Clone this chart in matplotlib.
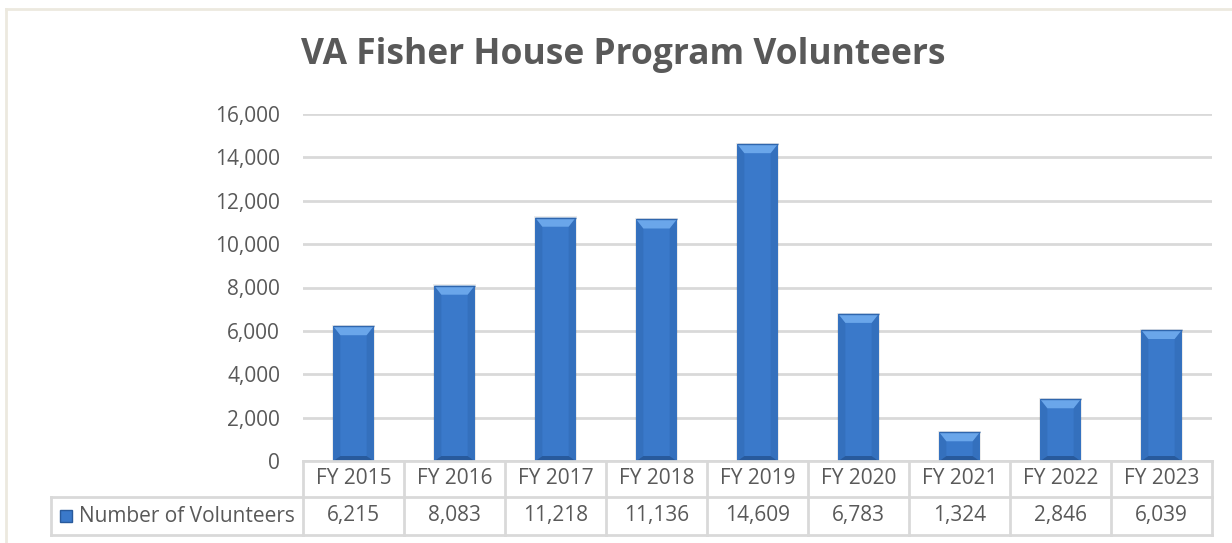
import matplotlib
matplotlib.use("Agg")
import matplotlib.pyplot as plt
from matplotlib.patches import Polygon, Rectangle
from matplotlib.lines import Line2D

# data
years = ["FY 2015", "FY 2016", "FY 2017", "FY 2018", "FY 2019",
         "FY 2020", "FY 2021", "FY 2022", "FY 2023"]
volunteers = [6215, 8083, 11218, 11136, 14609, 6783, 1324, 2846, 6039]
series_name = "Number of Volunteers"
y_ticks = [0, 2000, 4000, 6000, 8000, 10000, 12000, 14000, 16000]

TEXT = "#595959"
GRID = "#d9d9d9"
FACE = "#3a79ca"
TOP = "#6aa6ea"
SIDE = "#3470bd"
BOTTOM = "#285a9c"

plt.rcParams["font.family"] = ["Open Sans", "DejaVu Sans"]

W, H = 1232, 543
fig = plt.figure(figsize=(W / 100, H / 100), dpi=100)


def fx(px):
    return px / W


def fy(py):
    return 1 - py / H


ax_left, ax_right, ax_top, ax_bot = 303, 1212, 114, 461
ax = fig.add_axes([fx(ax_left), fy(ax_bot), fx(ax_right - ax_left), (ax_bot - ax_top) / H])
ax.set_xlim(-0.5, len(years) - 0.5)
ax.set_ylim(0, 16000)

for s in ax.spines.values():
    s.set_visible(False)
ax.set_yticks(y_ticks)
ax.set_yticklabels([f"{v:,}" for v in y_ticks])
ax.tick_params(axis="y", length=0, pad=16.5, labelsize=15, labelcolor=TEXT)
ax.set_xticks([])
ax.yaxis.grid(True, color=GRID, linewidth=2)
ax.set_axisbelow(True)

# bars with a simple bevel look
bw = 0.4
dx = 0.07
px_per_unit = (ax_bot - ax_top) / 16000
dy_top = 9 / px_per_unit
dy_bot = 5 / px_per_unit
for i, v in enumerate(volunteers):
    x0, x1 = i - bw / 2, i + bw / 2
    # soft shadow
    ax.add_patch(Rectangle((x0 - 0.015, 0), bw + 0.03, v + 60, facecolor="#000000",
                           alpha=0.08, edgecolor="none", zorder=2))
    ax.bar(i, v, width=bw, color=FACE, edgecolor="none", zorder=3)
    ax.add_patch(Polygon([(x0, v), (x0 + dx, v - dy_top), (x0 + dx, dy_bot), (x0, 0)],
                         facecolor=SIDE, edgecolor="none", zorder=4))
    ax.add_patch(Polygon([(x1, v), (x1 - dx, v - dy_top), (x1 - dx, dy_bot), (x1, 0)],
                         facecolor=SIDE, edgecolor="none", zorder=4))
    ax.add_patch(Polygon([(x0, 0), (x1, 0), (x1 - dx, dy_bot), (x0 + dx, dy_bot)],
                         facecolor=BOTTOM, edgecolor="none", zorder=4))
    ax.add_patch(Polygon([(x0, v), (x1, v), (x1 - dx, v - dy_top), (x0 + dx, v - dy_top)],
                         facecolor=TOP, edgecolor="none", zorder=5))
    ax.plot([x0, x1], [v, v], color="#2f66ad", lw=1, zorder=6, solid_capstyle="butt")

# data table under the plot
row_top, row_mid, row_bot = 461, 497, 535
tbl_left = 51
col_w = (ax_right - ax_left) / len(years)
fig.add_artist(Line2D([fx(ax_left), fx(ax_right)], [fy(row_top), fy(row_top)], color=GRID, lw=2))
for yy in (row_mid, row_bot):
    fig.add_artist(Line2D([fx(tbl_left), fx(ax_right)], [fy(yy), fy(yy)], color=GRID, lw=2))
for k in range(len(years) + 1):
    xx = ax_left + k * col_w
    fig.add_artist(Line2D([fx(xx), fx(xx)], [fy(row_top), fy(row_bot)], color=GRID, lw=2))
fig.add_artist(Line2D([fx(tbl_left), fx(tbl_left)], [fy(row_mid), fy(row_bot)], color=GRID, lw=2))

for k, (lab, v) in enumerate(zip(years, volunteers)):
    cx = ax_left + (k + 0.5) * col_w
    fig.text(fx(cx), fy((row_top + row_mid) / 2), lab, ha="center", va="center",
             fontsize=15, color=TEXT)
    fig.text(fx(cx), fy((row_mid + row_bot) / 2), f"{v:,}", ha="center", va="center",
             fontsize=15, color=TEXT)

# legend key + series name
fig.add_artist(Rectangle((fx(60), fy(522)), fx(12), 12 / H, facecolor=FACE,
                         edgecolor=BOTTOM, lw=1))
fig.text(fx(79), fy((row_mid + row_bot) / 2), series_name, ha="left", va="center",
         fontsize=15, color=TEXT)

# title
fig.text(fx(623), fy(55), "VA Fisher House Program Volunteers", ha="center", va="center",
         fontsize=25.5, fontweight="bold", color=TEXT)

# chart frame (only top / left visible in the crop)
fig.add_artist(Line2D([fx(6), fx(W)], [fy(9), fy(9)], color="#ece9df", lw=2))
fig.add_artist(Line2D([fx(6), fx(6)], [fy(9), fy(H)], color="#ece9df", lw=2))

fig.savefig("out.png", dpi=100)
